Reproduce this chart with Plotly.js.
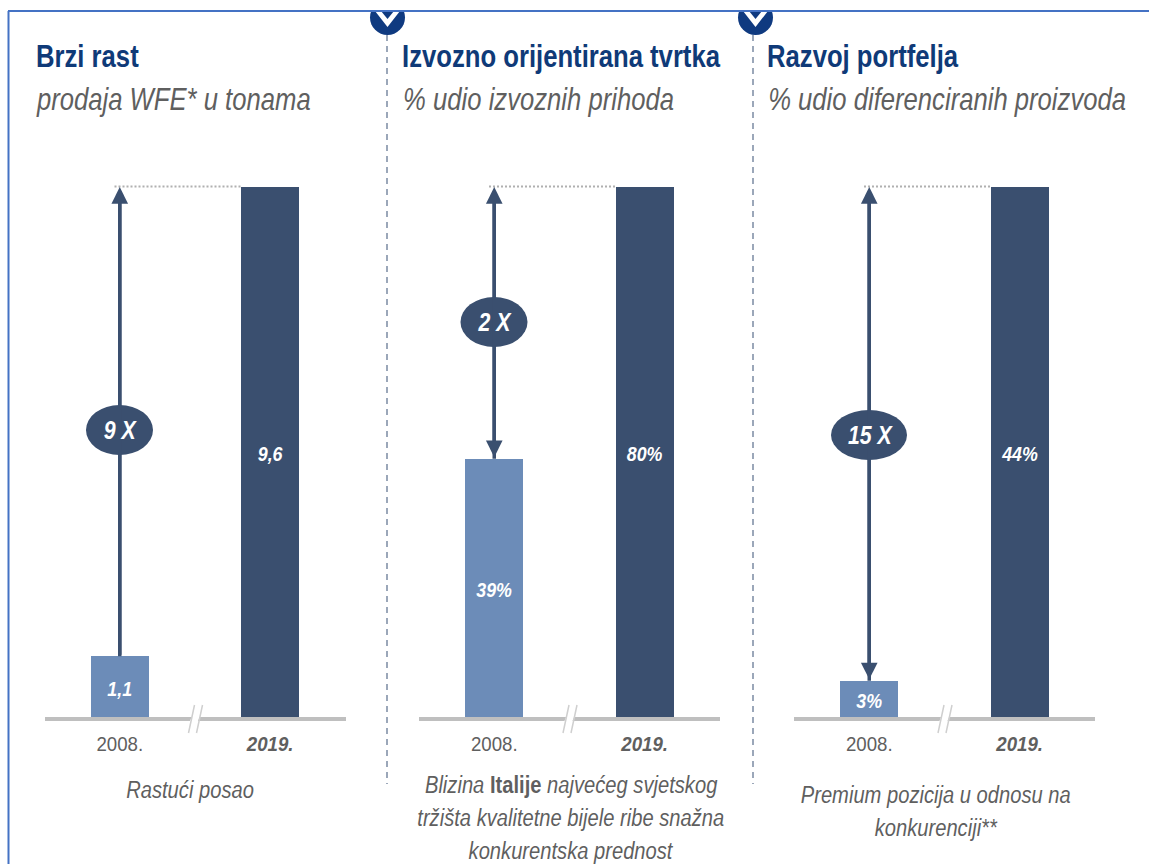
<!DOCTYPE html>
<html><head><meta charset="utf-8">
<script src="https://cdn.plot.ly/plotly-3.0.1.min.js"></script>
<style>html,body{margin:0;padding:0;background:#fff;overflow:hidden}</style></head>
<body><div id="c" style="width:1149px;height:864px"></div>
<script>
const years = ['2008.', '2019.'];
const yearLabels = ['2008.', '<b><i>2019.</i></b>'];
const growthValues = [1.1, 9.6];
const exportValues = [39, 80];
const portfolioValues = [3, 44];
const growthText = ['1,1', '9,6'];
const exportText = ['39%', '80%'];
const portfolioText = ['3%', '44%'];
const panelTitles = ['Brzi rast', 'Izvozno orijentirana tvrtka', 'Razvoj portfelja'];
const panelSubtitles = ['prodaja WFE* u tonama', '% udio izvoznih prihoda', '% udio diferenciranih proizvoda'];
const multipliers = ['9 X', '2 X', '15 X'];

const W = 1149, H = 864;
const FONT = '"Liberation Sans",Arial,sans-serif';
const px = v => v / W, py = v => 1 - v / H;
const NAVY = '#3a4f6f', LIGHT = '#6c8cb8', GREY = '#5f5f5f', TITLE = '#0f3a78';
const AX = ['', '2', '3'];
const LEFT = [44.5, 419, 794];
const AW = 301, TOP = 187, BASE = 717;
const ELLY = [430, 322, 435];
const SERIES = [growthValues, exportValues, portfolioValues];
const TXT = [growthText, exportText, portfolioText];
const TITLEX = [34, 400, 765];
const SUBX = [34, 401, 766];

const data = SERIES.map((vals, i) => ({
  type: 'bar', x: years, y: vals, xaxis: 'x' + AX[i], yaxis: 'y' + AX[i],
  width: 0.387, marker: {color: [LIGHT, NAVY], line: {width: 0}},
  text: TXT[i], textposition: 'inside', insidetextanchor: 'middle', constraintext: 'none',
  textangle: 0, textfont: {family: FONT, size: 21, color: '#ffffff', weight: 700, style: 'italic'},
  hoverinfo: 'skip', showlegend: false, cliponaxis: false
}));

const layout = {
  width: W, height: H, margin: {l: 0, r: 0, t: 0, b: 0}, paper_bgcolor: '#fff', plot_bgcolor: 'rgba(0,0,0,0)',
  font: {family: FONT}, showlegend: false, bargap: 0, annotations: [], shapes: []
};
const shapes = layout.shapes, ann = layout.annotations;

SERIES.forEach((vals, i) => {
  const xn = 'xaxis' + AX[i], yn = 'yaxis' + AX[i], xr = 'x' + AX[i], yr = 'y' + AX[i];
  layout[xn] = {
    domain: [px(LEFT[i]), px(LEFT[i] + AW)], anchor: yr, type: 'category', range: [-0.5, 1.5], fixedrange: true,
    tickmode: 'array', tickvals: years, ticktext: yearLabels, ticks: '', ticklen: 0, ticklabelstandoff: 5,
    tickfont: {family: FONT, size: 21, color: GREY}, showgrid: false, zeroline: false,
    showline: true, linecolor: '#bfbfbf', linewidth: 4
  };
  layout[yn] = {
    domain: [py(BASE), py(TOP)], anchor: xr, range: [0, vals[1]], fixedrange: true, visible: false, showgrid: false, zeroline: false
  };
  // dotted reference from arrow to the top of the 2019 bar
  shapes.push({type: 'line', xref: 'paper', yref: 'paper', x0: px(LEFT[i] + 70), x1: px(LEFT[i] + 196), y0: py(TOP - 0.5), y1: py(TOP - 0.5),
    line: {color: '#b0b0b0', width: 2, dash: '2px,2px'}});
  // arrow stem, reaching the top of the 2008 bar
  shapes.push({type: 'line', xref: xr, yref: yr, x0: 0, x1: 0, y0: vals[0], y1: vals[1] - (vals[1] * 0.02),
    line: {color: NAVY, width: 3.5}, layer: 'above'});
  // multiplier ellipse
  shapes.push({type: 'circle', xref: 'paper', yref: 'paper', x0: px(LEFT[i] + 75 - (i === 2 ? 38 : 33.5)), x1: px(LEFT[i] + 75 + (i === 2 ? 38 : 33.5)),
    y0: py(ELLY[i] + 25), y1: py(ELLY[i] - 25), fillcolor: NAVY, line: {width: 0}, layer: 'above'});
  // axis break
  const bx = LEFT[i] + 150;
  shapes.push({type: 'path', xref: 'paper', yref: 'paper',
    path: `M${px(bx - 2)},${py(715)}L${px(bx + 6)},${py(715)}L${px(bx + 3)},${py(722)}L${px(bx - 5)},${py(722)}Z`,
    fillcolor: '#fff', line: {width: 0}});
  [-1, 7].forEach(o => shapes.push({type: 'line', xref: 'paper', yref: 'paper',
    x0: px(bx + o - 5), x1: px(bx + o + 1), y0: py(733), y1: py(705), line: {color: '#cfcfcf', width: 1.5}}));

  // arrow head(s)
  ann.push({xref: xr, yref: yr, axref: xr, ayref: yr, x: 0, y: vals[1], ax: 0, ay: vals[0], text: '', showarrow: true,
    arrowhead: 2, arrowsize: 0.95, arrowwidth: 3.5, arrowcolor: NAVY, arrowside: i === 0 ? 'end' : 'end+start', standoff: 0, startstandoff: 0});
  ann.push({xref: 'paper', yref: 'paper', x: px(LEFT[i] + 76), y: py(ELLY[i]), text: '<b><i>' + multipliers[i] + '</i></b>', showarrow: false,
    font: {family: FONT, size: 26, color: '#fff'}, xanchor: 'center', yanchor: 'middle'});
  ann.push({xref: 'paper', yref: 'paper', x: px(TITLEX[i]), y: py(57), text: '<b>' + panelTitles[i] + '</b>', showarrow: false,
    font: {family: FONT, size: 31, color: TITLE}, xanchor: 'left', yanchor: 'middle'});
  ann.push({xref: 'paper', yref: 'paper', x: px(SUBX[i]), y: py(99), text: '<i>' + panelSubtitles[i] + '</i>', showarrow: false,
    font: {family: FONT, size: 31, color: GREY}, xanchor: 'left', yanchor: 'middle'});
});

// dividers and badges
[[387, 387.5], [753, 755.5]].forEach(([x, c]) => {
  shapes.push({type: 'line', xref: 'paper', yref: 'paper', x0: px(x), x1: px(x), y0: py(35), y1: py(784), line: {color: '#7b8ba3', width: 1.5, dash: '6px,5px'}});
  shapes.push({type: 'circle', xref: 'paper', yref: 'paper', x0: px(c - 17.5), x1: px(c + 17.5), y0: py(35), y1: py(0), fillcolor: '#0f3a80', line: {width: 0}});
  shapes.push({type: 'path', xref: 'paper', yref: 'paper',
    path: `M${px(c - 12.5)},${py(11)}L${px(c)},${py(27)}L${px(c + 12.5)},${py(11)}L${px(c + 6.5)},${py(11)}L${px(c)},${py(19)}L${px(c - 6.5)},${py(11)}Z`,
    fillcolor: '#fff', line: {width: 0}});
  shapes.push({type: 'rect', xref: 'paper', yref: 'paper', x0: px(c - 20), x1: px(c + 20), y0: py(10), y1: 1, fillcolor: '#fff', line: {width: 0}});
});
// frame
shapes.push({type: 'line', xref: 'paper', yref: 'paper', x0: px(8), x1: 1, y0: py(11), y1: py(11), line: {color: '#4472c4', width: 2}});
shapes.push({type: 'line', xref: 'paper', yref: 'paper', x0: px(8.5), x1: px(8.5), y0: py(11), y1: 0, line: {color: '#4472c4', width: 2}});

const notes = [
  [190, 789.5, '<i>Rastući posao</i>'],
  [571, 784, '<i>Blizina </i><b>Italije</b><i> najvećeg svjetskog</i>'],
  [571, 817, '<i>tržišta kvalitetne bijele ribe snažna</i>'],
  [571, 850, '<i>konkurentska prednost</i>'],
  [936, 794, '<i>Premium pozicija u odnosu na</i>'],
  [936, 827, '<i>konkurenciji**</i>']
];
notes.forEach(n => ann.push({xref: 'paper', yref: 'paper', x: px(n[0]), y: py(n[1]), text: n[2], showarrow: false,
  font: {family: FONT, size: 24, color: GREY}, xanchor: 'center', yanchor: 'middle'}));

// the reference is set in a narrow grotesque: condense the real text horizontally
function condense(el, k, left, dy) {
  const b = el.getBBox();
  const ox = left ? b.x : b.x + b.width / 2;
  const old = el.getAttribute('transform') || '';
  el.setAttribute('transform', `${old} translate(${ox},${dy || 0}) scale(${k},1) translate(${-ox},0)`);
}
Plotly.newPlot('c', data, layout, {staticPlot: true, displayModeBar: false}).then(gd => {
  gd.querySelectorAll('.annotation').forEach(g => {
    const a = ann[+g.getAttribute('data-index')];
    const t = g.querySelector('text');
    if (!t || !a || !a.text) return;
    const size = a.font.size;
    condense(t, size === 24 ? 0.84 : size === 26 ? 0.82 : 0.828, a.xanchor === 'left');
  });
  gd.querySelectorAll('.xtick text, .x2tick text, .x3tick text').forEach(t => condense(t, 0.89, false));
  gd.querySelectorAll('.bartext text, text.bartext').forEach(t => condense(t, 0.85, false, 1.5));
});
</script></body></html>
